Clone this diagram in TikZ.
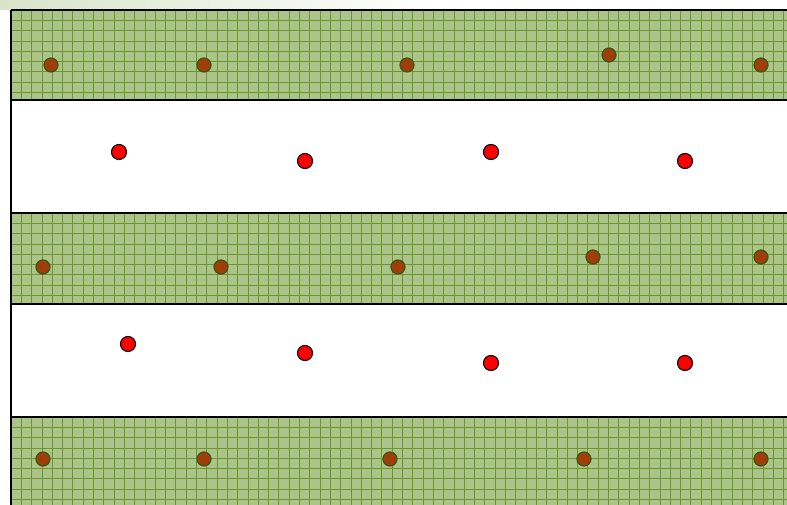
\documentclass[tikz,border=0pt]{standalone}
\usepackage{tikz}
\usetikzlibrary{shadings}
\definecolor{field@green}{RGB}{170,196,138}
\definecolor{field@grid}{RGB}{110,150,45}
\definecolor{field@brown}{RGB}{160,62,10}
\definecolor{field@rim}{RGB}{60,85,20}
\definecolor{field@red}{RGB}{255,0,0}
\definecolor{field@shade}{RGB}{215,228,200}
\tikzset{
  field/.style={
    x=1pt, y=-1pt,
    line width=0.6pt
  },
  bandbox/.style={                 % planted strip
    fill=field@green, draw=none
  },
  gridline/.style={draw=field@grid, line width=0.7pt},
  edge/.style={draw=black, line width=1.4pt},
  plant/.style={                   % plant in a strip
    circle, draw=field@rim, line width=1.2pt,
    fill=field@brown, inner sep=0pt, minimum size=14pt
  },
  seed/.style={                    % point between strips
    circle, draw=black, line width=1.1pt,
    fill=field@red, inner sep=0pt, minimum size=15pt
  }
}

\begin{document}
\begin{tikzpicture}[field]
\useasboundingbox (0,0) rectangle (787,505);

% Faint shadow strip at the top
\shade[left color=field@shade, right color=white] (0,0) rectangle (430,10);

% Green strips with their grid
\foreach \top/\bot in {10/100, 213/304, 417/505} {
  \fill[bandbox] (11,\top) rectangle (787,\bot);
  \begin{scope}
    \clip (11,\top) rectangle (787,\bot);
    \foreach \x in {21.3,31.6,...,787}
      \draw[gridline] (\x,\top) -- (\x,\bot);
    \pgfmathsetmacro{\ystart}{\top+10.3}
    \pgfmathsetmacro{\ynext}{\top+20.6}
    \foreach \y in {\ystart,\ynext,...,\bot}
      \draw[gridline] (11,\y) -- (787,\y);
  \end{scope}
}

% Strip borders
\foreach \y in {10, 100, 213, 304, 417}
  \draw[edge] (11,\y) -- (787,\y);
\draw[edge] (11,10) -- (11,505);

% Plants in the strips
\foreach \x/\y [count=\i] in {51/65, 204/65, 407/65, 609/55, 761/65,
                              43/267, 221/267, 398/267, 593/257, 761/257,
                              43/459, 204/459, 390/459, 584/459, 761/459}
  \node[plant] (p\i) at (\x,\y) {};

% Points between the strips
\foreach \x/\y [count=\i] in {119/152, 305/161, 491/152, 685/161,
                              128/344, 305/353, 491/363, 685/363}
  \node[seed] (s\i) at (\x,\y) {};

\end{tikzpicture}
\end{document}
